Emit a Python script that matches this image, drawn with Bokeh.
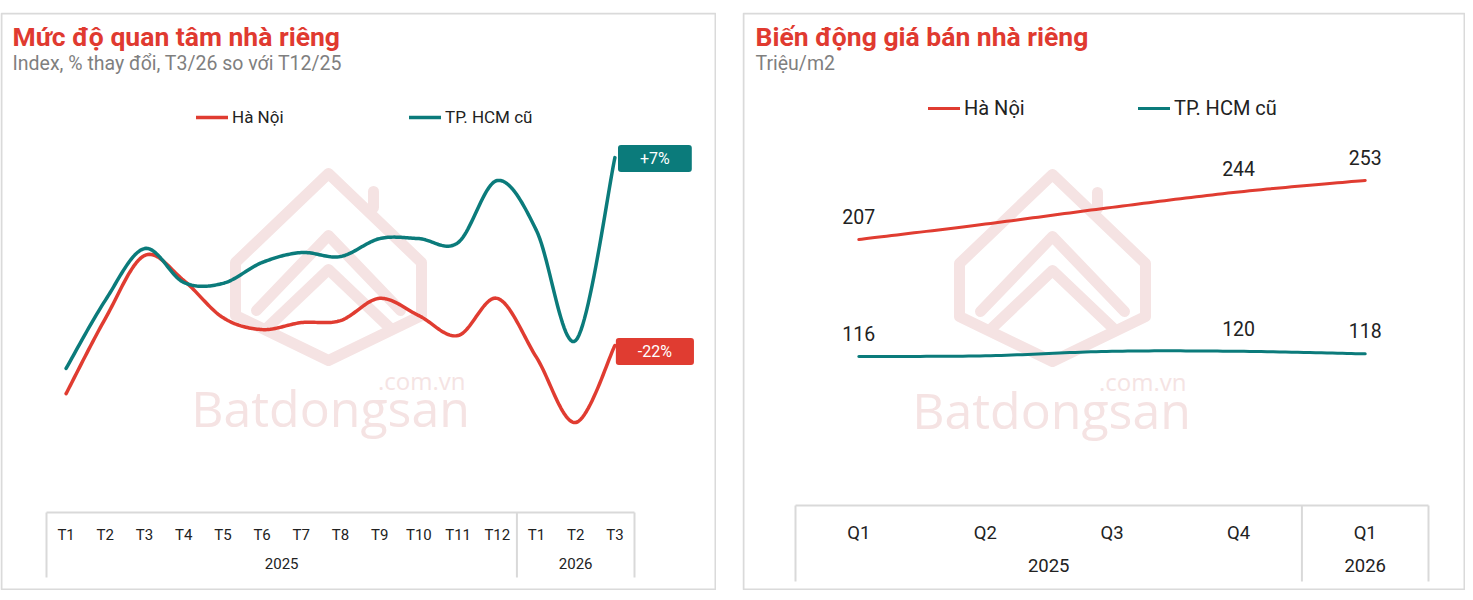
from bokeh.plotting import figure
from bokeh.models import Range1d, LinearAxis, FixedTicker, Label
from bokeh.layouts import row
from bokeh.embed import file_html
from bokeh.resources import INLINE
from bokeh.core.properties import value

# ---------------- data ----------------
months_2025 = ["T1", "T2", "T3", "T4", "T5", "T6", "T7", "T8", "T9", "T10", "T11", "T12"]
months_2026 = ["T1", "T2", "T3"]
interest_hanoi = [35.8, 58.4, 77.4, 69.9, 58.7, 55.1, 57.2, 57.8, 64.5, 59.3, 53.3, 64.5, 46.7, 27.1, 50.3]
interest_hcm = [43.4, 63.9, 79.5, 69.3, 69.0, 75.3, 78.3, 77.1, 82.5, 82.5, 81.3, 100.0, 84.9, 51.8, 106.9]

quarters_2025 = ["Q1", "Q2", "Q3", "Q4"]
quarters_2026 = ["Q1"]
price_hanoi = [207, 219, 232, 244, 253]
price_hcm = [116, 116.5, 120, 120, 118]
price_show_label = [True, False, False, True, True]

years = ["2025", "2026"]
series_names = ["Hà Nội", "TP. HCM cũ"]
title_left = "Mức độ quan tâm nhà riêng"
subtitle_left = "Index, % thay đổi, T3/26 so với T12/25"
title_right = "Biến động giá bán nhà riêng"
subtitle_right = "Triệu/m2"

RED = "#e03c31"
TEAL = "#0b7b7b"
TXT = "#222222"
GRID = "#d9d9d9"
WM = "#f5e3e3"
FONT = "Roboto"


def smooth(xs, ys, n=24):
    """Catmull-Rom style smoothing (like spreadsheet smoothed lines)."""
    m = len(xs)
    ox, oy = [], []
    for i in range(m - 1):
        i0, i3 = max(i - 1, 0), min(i + 2, m - 1)
        p0, p1, p2, p3 = (xs[i0], ys[i0]), (xs[i], ys[i]), (xs[i + 1], ys[i + 1]), (xs[i3], ys[i3])
        c1 = (p1[0] + (p2[0] - p0[0]) / 6, p1[1] + (p2[1] - p0[1]) / 6)
        c2 = (p2[0] - (p3[0] - p1[0]) / 6, p2[1] - (p3[1] - p1[1]) / 6)
        steps = n + 1 if i == m - 2 else n
        for k in range(steps):
            t = k / n
            a, b, c, d = (1 - t) ** 3, 3 * (1 - t) ** 2 * t, 3 * (1 - t) * t ** 2, t ** 3
            ox.append(a * p1[0] + b * c1[0] + c * c2[0] + d * p2[0])
            oy.append(a * p1[1] + b * c1[1] + c * c2[1] + d * p2[1])
    return ox, oy


def build(geom, groups, fs, s1, s2):
    """geom: page rect of panel, first category centre, category step, zero line, px per unit, box bottom"""
    left, top, width, height = geom["rect"]
    c0, dx, zero, sc, bottom = geom["c0"], geom["dx"], geom["zero"], geom["scale"], geom["bottom"]
    p = figure(width=width, height=height,
               x_range=Range1d((left - c0) / dx, (left + width - c0) / dx),
               y_range=Range1d(-(top + height - zero) / sc, (zero - top) / sc),
               output_backend="svg", toolbar_location=None,
               x_axis_location=None, y_axis_location=None,
               min_border=0, min_border_left=0, min_border_right=0,
               min_border_top=0, min_border_bottom=0)
    p.title.visible = False
    p.grid.visible = False
    p.outline_line_color = None
    p.margin = (top, 0, 0, 0)
    p.extra_x_ranges = {"px": Range1d(left, left + width)}
    p.extra_y_ranges = {"py": Range1d(top + height, top)}

    # panel border
    p.quad(left=[left + 1], right=[left + width - 1], top=[top + 1], bottom=[top + height - 1],
           fill_color=None, line_color="#dadada", line_width=2,
           x_range_name="px", y_range_name="py")

    cats = [c for _, cs in groups for c in cs]
    n = len(cats)
    # axis box
    bounds = [-0.5]
    centers = []
    for _, cs in groups:
        centers.append(bounds[-1] + len(cs) / 2)
        bounds.append(bounds[-1] + len(cs))
    ybot = -(bottom - zero) / sc
    p.segment(x0=bounds, y0=[0] * len(bounds), x1=bounds, y1=[ybot] * len(bounds),
              line_color=GRID, line_width=2)
    p.segment(x0=[-0.5], y0=[0], x1=[n - 0.5], y1=[0], line_color=GRID, line_width=2)

    for ticks, labels, standoff in [(list(range(n)), cats, s1),
                                    (centers, [g for g, _ in groups], s2)]:
        ax = LinearAxis(fixed_location=0, ticker=FixedTicker(ticks=ticks),
                        major_label_overrides={t: l for t, l in zip(ticks, labels)})
        ax.axis_line_color = None
        ax.major_tick_line_color = None
        ax.minor_tick_line_color = None
        ax.major_tick_out = 0
        ax.major_tick_in = 0
        ax.minor_tick_out = 0
        ax.major_label_standoff = standoff
        ax.major_label_text_font = FONT
        ax.major_label_text_font_size = fs
        ax.major_label_text_color = TXT
        p.add_layout(ax, "below")
    return p


def add_titles(p, title, subtitle, x, y_title, y_sub):
    p.text(x=[x], y=[y_title], text=[title], x_range_name="px", y_range_name="py",
           text_font=value(FONT), text_font_size="26.5px", text_font_style="bold",
           text_color="#e03a30", text_baseline="alphabetic")
    p.text(x=[x], y=[y_sub], text=[subtitle], x_range_name="px", y_range_name="py",
           text_font=value(FONT), text_font_size="19.5px", text_color="#7f7f7f",
           text_baseline="alphabetic")


def add_watermark(p, cx, cy, tx, ty, cx2, cy2):
    outer = [(0, -92), (-93, -3), (-93, 50), (0, 95), (93, 50), (93, -3), (0, -92)]
    chev1 = [(-72, 45), (0, -30), (72, 45)]
    chev2 = [(-62, 63), (0, 4), (62, 63)]
    chim = [(45, -58), (45, -74)]
    shapes = (outer, chev1, chev2, chim)
    p.multi_line(xs=[[cx + a for a, _ in s] for s in shapes],
                 ys=[[cy + b for _, b in s] for s in shapes],
                 line_color=WM, line_width=11, line_join="round", line_cap="round",
                 x_range_name="px", y_range_name="py", level="underlay")
    p.text(x=[tx], y=[ty], text=["Batdongsan"], text_align="center", text_baseline="alphabetic",
           text_font=value("Open Sans"), text_font_size="50px", text_font_style="normal",
           text_color=WM, x_range_name="px", y_range_name="py", level="underlay")
    p.text(x=[cx2], y=[cy2], text=[".com.vn"], text_align="right", text_baseline="alphabetic",
           text_font=value("Open Sans"), text_font_size="24px", text_color=WM,
           x_range_name="px", y_range_name="py", level="underlay")


def style_legend(p, x, y, fs, label_width):
    lg = p.legend[0]
    lg.location = (x, y)
    lg.orientation = "horizontal"
    lg.padding = 0
    lg.margin = 0
    lg.spacing = 0
    lg.glyph_width = 32
    lg.glyph_height = 24
    lg.label_height = 24
    lg.label_standoff = 4
    lg.label_width = label_width
    lg.label_text_font = FONT
    lg.label_text_font_size = fs
    lg.label_text_color = TXT
    lg.border_line_color = None
    lg.background_fill_alpha = 0


# ---------------- left panel ----------------
L = dict(rect=(2, 12, 716, 578), c0=67.6, dx=39.2, zero=512, scale=3.32, bottom=577)
p1 = build(L, [(years[0], months_2025), (years[1], months_2026)], "15px", 13, 45)
add_watermark(p1, 330, 265, 332, 407, 467, 380)
xi = list(range(len(interest_hanoi)))
for vals, name, col in [(interest_hanoi, series_names[0], RED), (interest_hcm, series_names[1], TEAL)]:
    sx, sy = smooth(xi, vals)
    p1.line(sx, sy, line_color=col, line_width=3.5, line_cap="round", line_join="round",
            legend_label=name)
    i12 = len(months_2025) - 1
    pct = (vals[-1] / vals[i12] - 1) * 100
    p1.add_layout(Label(x=xi[-1], y=vals[-1], text=f"{pct:+.0f}%", x_offset=40,
                        y_offset=(-1 if pct > 0 else -6),
                        text_align="center", text_baseline="middle",
                        text_font=FONT, text_font_size="16px", text_color="white",
                        background_fill_color=col, border_radius=3,
                        padding=dict(left=22, right=22, top=4, bottom=4)))
add_titles(p1, title_left, subtitle_left, 14, 36, 63)
style_legend(p1, 196, 461, "17px", 177)

# ---------------- right panel ----------------
R = dict(rect=(744, 12, 723, 578), c0=860.3, dx=126.6, zero=505, scale=1.285, bottom=581)
p2 = build(R, [(years[0], quarters_2025), (years[1], quarters_2026)], "18.5px", 16, 53)
add_watermark(p2, 1054, 266, 1053, 409, 1188, 381)
xq = list(range(len(price_hanoi)))
for vals, name, col in [(price_hanoi, series_names[0], RED), (price_hcm, series_names[1], TEAL)]:
    sx, sy = smooth(xq, vals)
    p2.line(sx, sy, line_color=col, line_width=3, line_cap="round", line_join="round",
            legend_label=name)
    lx = [x for x, s in zip(xq, price_show_label) if s]
    ly = [v for v, s in zip(vals, price_show_label) if s]
    p2.text(x=lx, y=ly, text=[f"{v:.0f}" for v in ly], y_offset=-23,
            text_align="center", text_baseline="middle",
            text_font=value(FONT), text_font_size="19.5px", text_color=TXT)
add_titles(p2, title_right, subtitle_right, 757, 36, 63)
style_legend(p2, 186, 470, "20px", 174)

layout = row(p1, p2, spacing=26)
open("out.html", "w").write(file_html(layout, INLINE))
